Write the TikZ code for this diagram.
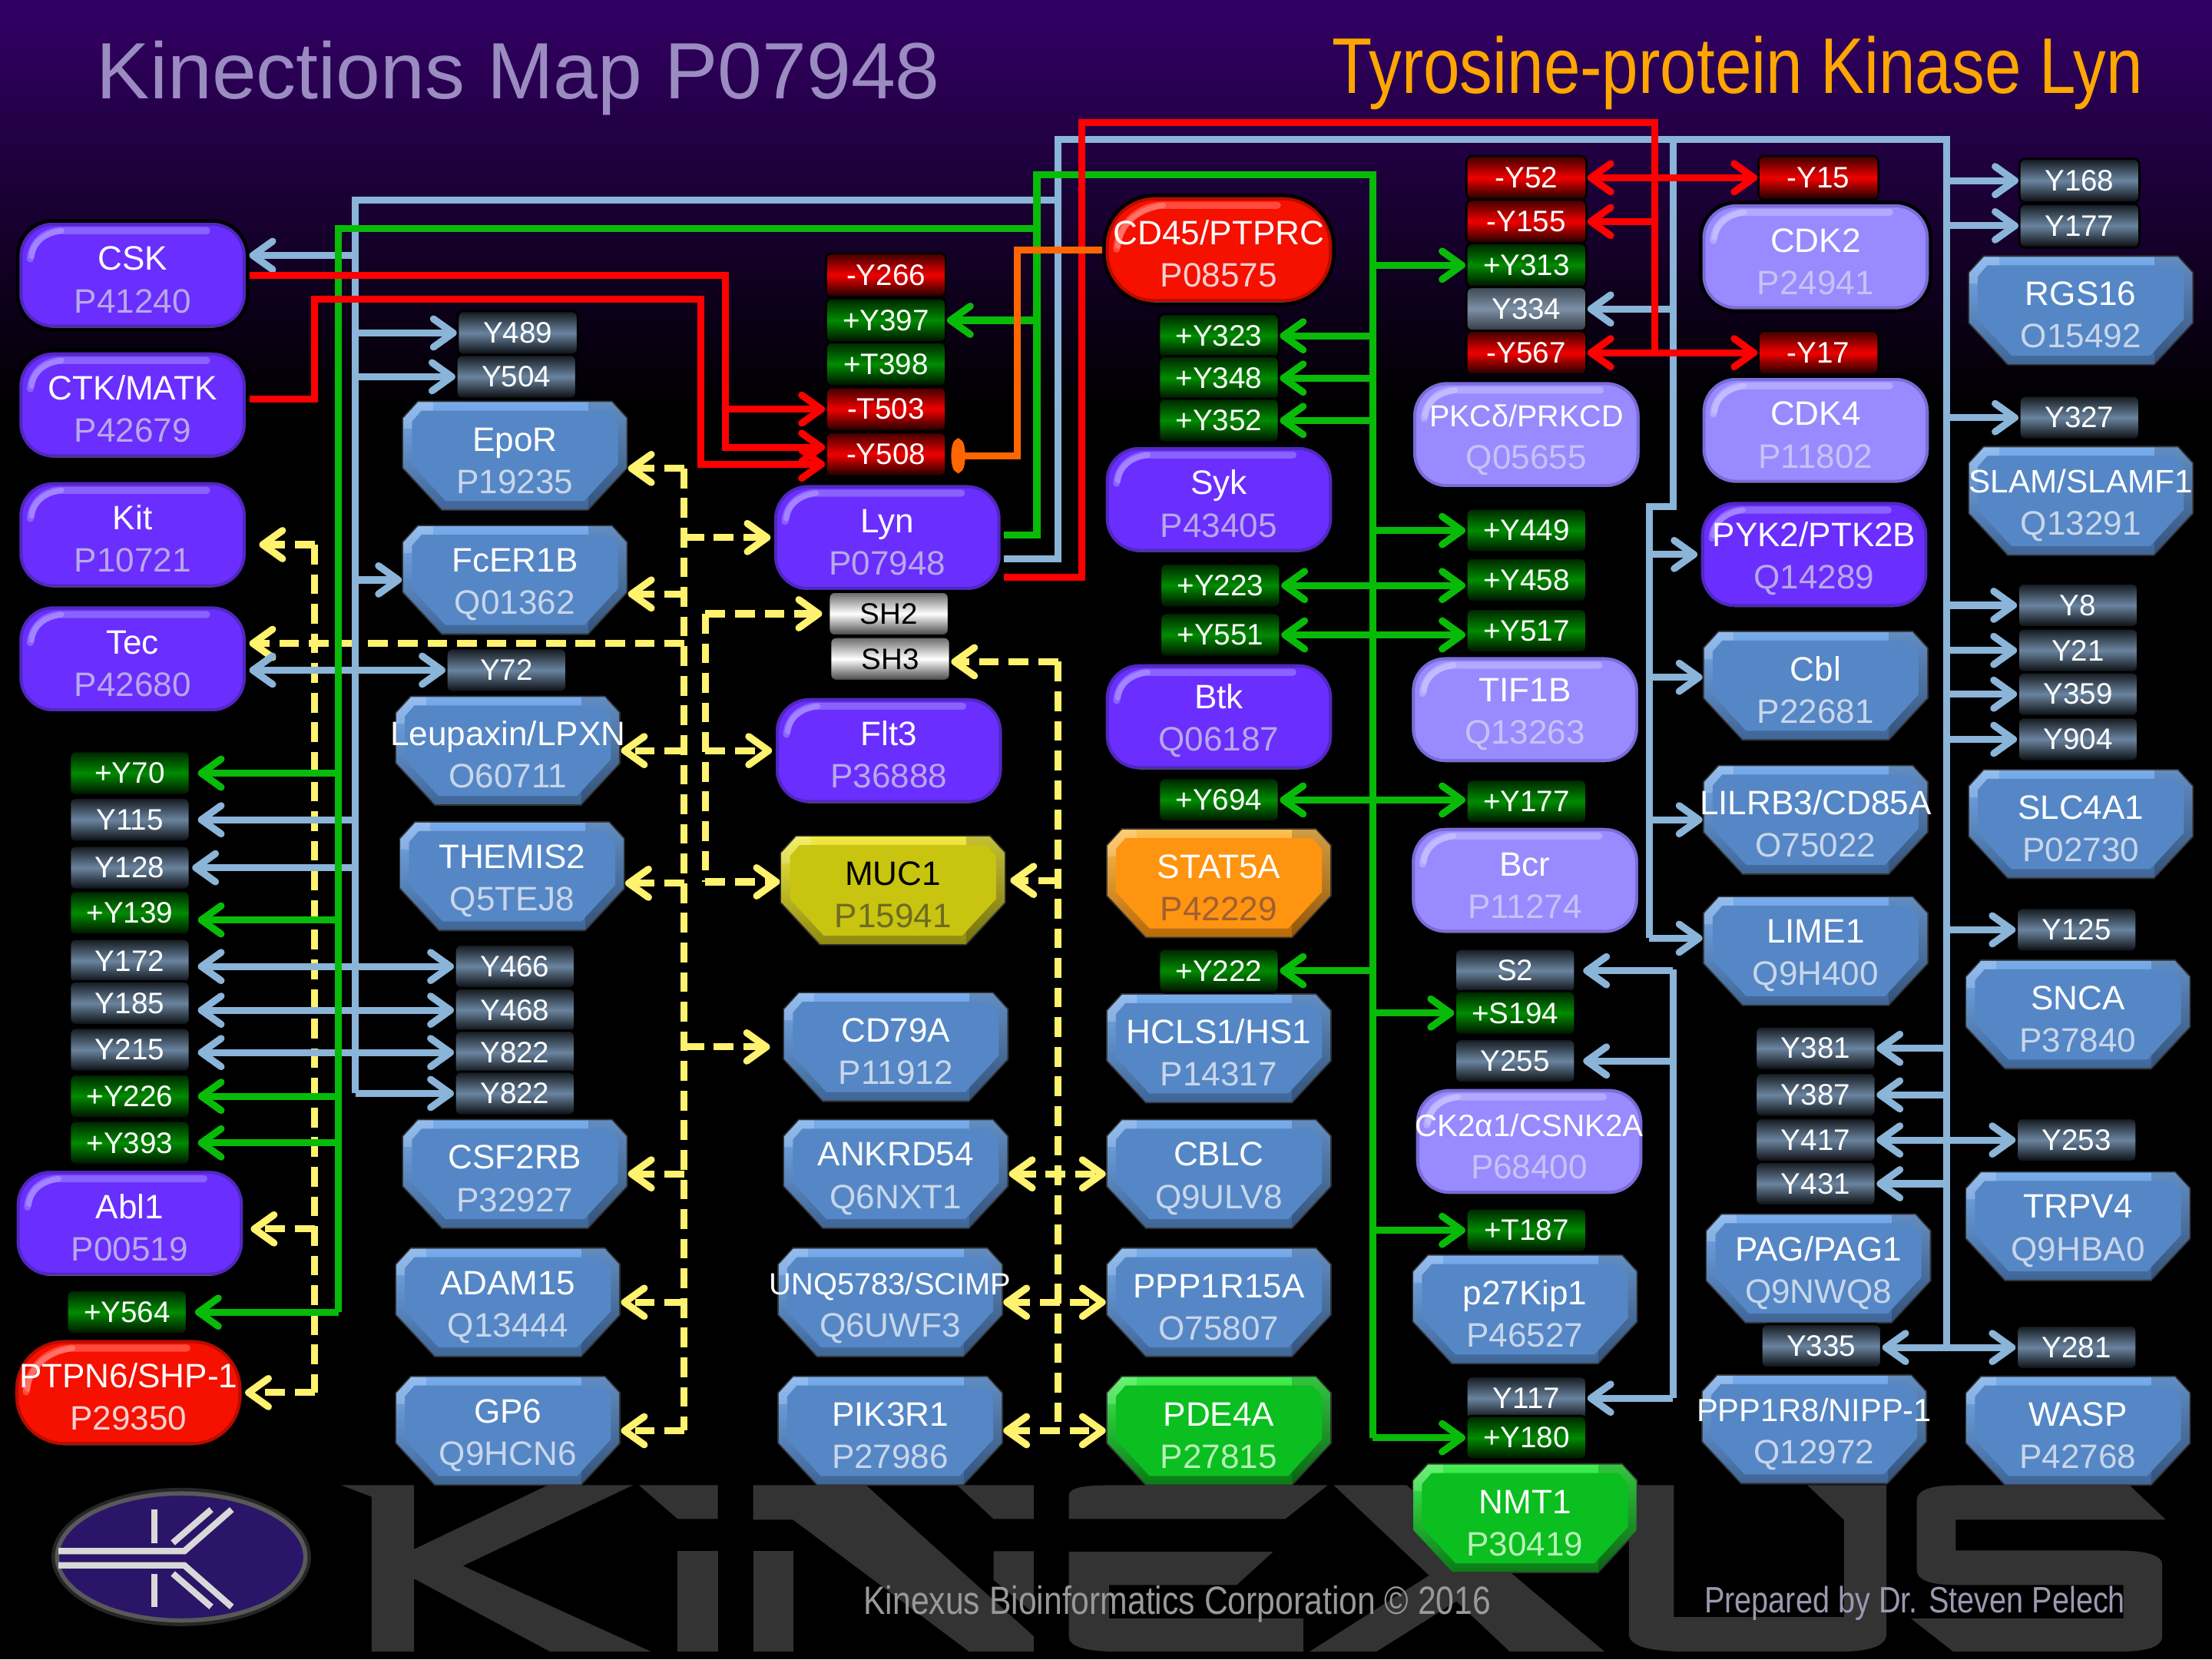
\documentclass[tikz,border=0pt]{standalone}
\usepackage{xcolor}
\usepackage{fontspec}
\setmainfont{Liberation Sans}
\newfontfamily\narrowfont[FakeStretch=0.83]{Liberation Sans}
\usepackage{tikz}
\usetikzlibrary{arrows.meta}
\definecolor{bgpurple}{HTML}{330066}
\definecolor{maptitle}{HTML}{9A8CC0}
\definecolor{lyntitle}{HTML}{FFA600}
\definecolor{markgrey}{HTML}{333333}
\definecolor{logoface}{HTML}{2B1568}
\definecolor{logoline}{HTML}{D8D8D8}
\definecolor{linkblue}{HTML}{8AB4D8}
\definecolor{linkgreen}{HTML}{08BB08}
\definecolor{linkred}{HTML}{FF0000}
\definecolor{linkorange}{HTML}{FF6600}
\definecolor{linkyellow}{HTML}{FFF26E}
\definecolor{kinaseface}{HTML}{6A2EFF}
\definecolor{kinaserim}{HTML}{5028C0}
\definecolor{kinaseglow}{HTML}{8A62FF}
\definecolor{kinaseid}{HTML}{B8A8E8}
\definecolor{lightface}{HTML}{9A8AFF}
\definecolor{lightrim}{HTML}{7A6CD8}
\definecolor{lightglow}{HTML}{B4A8FF}
\definecolor{lightid}{HTML}{C8C2F5}
\definecolor{pinkface}{HTML}{F51000}
\definecolor{pinkrim}{HTML}{B80C00}
\definecolor{pinkglow}{HTML}{FF4A3C}
\definecolor{pinkid}{HTML}{F5D0D0}
\definecolor{hexface}{HTML}{5587C6}
\definecolor{hextop}{HTML}{78ACEC}
\definecolor{hexlow}{HTML}{3F6596}
\definecolor{hexrim}{HTML}{333333}
\definecolor{hexid}{HTML}{C8D6EA}
\definecolor{oliveface}{HTML}{C8C410}
\definecolor{olivetop}{HTML}{F0EA40}
\definecolor{olivelow}{HTML}{8E8A10}
\definecolor{oliveid}{HTML}{6E6C20}
\definecolor{amberface}{HTML}{FF9410}
\definecolor{ambertop}{HTML}{FFC050}
\definecolor{amberlow}{HTML}{B86808}
\definecolor{amberid}{HTML}{A06030}
\definecolor{limeface}{HTML}{0ABF1F}
\definecolor{limetop}{HTML}{40F050}
\definecolor{limelow}{HTML}{0A7A16}
\definecolor{limeid}{HTML}{B8F0B8}
\definecolor{sitesteel}{HTML}{6A849F}
\definecolor{sitepale}{HTML}{7C90A6}
\definecolor{sitegreen}{HTML}{008C00}
\definecolor{sitered}{HTML}{F00000}
\newcommand{\nodefont}{\fontsize{24}{30}\selectfont}
\newcommand{\sitefont}{\fontsize{21}{24}\selectfont}
\newcommand{\smallname}[2]{{\fontsize{#1}{30}\selectfont #2}}
\newcommand{\ptext}[3][white]{\makebox[0pt]{\textcolor{#1}{#2}}\rule{0pt}{23.4pt}\\\makebox[0pt]{#3}}
\newcommand{\hexpoly}[1]{([xshift=11pt+0.4*#1pt,yshift=-#1pt]path picture bounding box.north west)
  -- ([xshift=-11pt-0.4*#1pt,yshift=-#1pt]path picture bounding box.north east)
  -- ([xshift=-#1pt,yshift=-12pt-0.4*#1pt]path picture bounding box.north east)
  -- ([xshift=-#1pt,yshift=30pt+0.4*#1pt]path picture bounding box.south east)
  -- ([xshift=-28pt-0.4*#1pt,yshift=#1pt]path picture bounding box.south east)
  -- ([xshift=28pt+0.4*#1pt,yshift=#1pt]path picture bounding box.south west)
  -- ([xshift=#1pt,yshift=30pt+0.4*#1pt]path picture bounding box.south west)
  -- ([xshift=#1pt,yshift=-12pt-0.4*#1pt]path picture bounding box.north west) -- cycle}
\tikzset{
  link/.style={line width=5pt,>={Straight Barb[round,length=14pt,width=20pt]}},
  bluelink/.style={link,draw=linkblue},
  greenlink/.style={link,draw=linkgreen},
  redlink/.style={link,draw=linkred},
  orangelink/.style={link,draw=linkorange},
  yellowlink/.style={link,draw=linkyellow,dash pattern=on 14pt off 7pt},
  roundbox/.style n args={4}{rectangle,rounded corners=#4,minimum width=163pt,minimum height=77pt,
    inner sep=0pt,align=center,font=\nodefont,fill=#1,draw=black,line width=2.5pt,
    path picture={
      \draw[#2,line width=7pt,rounded corners=#4] (path picture bounding box.south west) rectangle (path picture bounding box.north east);
      \draw[sharp corners,black!55,line width=3pt] (path picture bounding box.south west) -- (path picture bounding box.south east);
      \draw[sharp corners,#3,line width=5pt,line cap=round] ([xshift=9pt,yshift=-#4-2pt]path picture bounding box.north west)
        to[out=85,in=185] ([xshift=#4+4pt,yshift=-7pt]path picture bounding box.north west)
        -- ([xshift=-#4-4pt,yshift=-7pt]path picture bounding box.north east);
      \draw[sharp corners,white,opacity=.22,line width=4pt,line cap=round] ([xshift=10pt,yshift=-#4]path picture bounding box.north west)
        to[out=85,in=190] ([xshift=#4+6pt,yshift=-7pt]path picture bounding box.north west);
    }},
  kinase/.style={roundbox={kinaseface}{kinaserim}{kinaseglow}{25pt},text=kinaseid},
  lightkinase/.style={roundbox={lightface}{lightrim}{lightglow}{25pt},text=lightid},
  phosphatase/.style={roundbox={pinkface}{pinkrim}{pinkglow}{36pt},text=pinkid},
  hexbox/.style n args={3}{rectangle,minimum width=160pt,minimum height=78pt,inner sep=0pt,
    align=center,font=\nodefont,
    path picture={
      \fill[hexrim] \hexpoly{0};
      \begin{scope}
      \clip \hexpoly{1};
      \shade[top color=#2,bottom color=#3] \hexpoly{1};
      \fill[black,opacity=.18] ([xshift=-28pt]path picture bounding box.north east) rectangle (path picture bounding box.south east);
      \fill[white,opacity=.2] (path picture bounding box.north west) rectangle ([xshift=22pt,yshift=-20pt]path picture bounding box.north west);
      \end{scope}
      \fill[#1] \hexpoly{7};
    }},
  substrate/.style={hexbox={hexface}{hextop}{hexlow},text=hexid},
  olivebox/.style={hexbox={oliveface}{olivetop}{olivelow},text=oliveid},
  amberbox/.style={hexbox={amberface}{ambertop}{amberlow},text=amberid},
  limebox/.style={hexbox={limeface}{limetop}{limelow},text=limeid},
  sitebox/.style={rectangle,rounded corners=4pt,minimum width=85pt,minimum height=31pt,inner sep=0pt,
    font=\sitefont,text=white,draw=black,line width=1.5pt},
  siteblue/.style={sitebox,top color=sitesteel!18!black,bottom color=sitesteel!8!black,middle color=sitesteel},
  sitepale/.style={sitebox,top color=sitepale!50!black,bottom color=sitepale!40!black,middle color=sitepale},
  siteplus/.style={sitebox,top color=sitegreen!25!black,bottom color=sitegreen!10!black,middle color=sitegreen},
  siteminus/.style={sitebox,top color=sitered!25!black,bottom color=sitered!10!black,middle color=sitered},
  sitedomain/.style={sitebox,top color=black!60,bottom color=black!75,middle color=white,text=black}
}
\begin{document}
\begin{tikzpicture}[x=1pt,y=-1pt]
\useasboundingbox (0,0) rectangle (1568,1176);
\fill[black] (0,0) rectangle (1568,1176);
\shade[top color=bgpurple,bottom color=black] (0,0) rectangle (1568,290);

\begin{scope}[shift={(217.8,1034.5)},x=0.8611pt,y=-0.1815pt,markgrey]
\fill (28,100)--(88,100)--(88,350)--(198,100)--(268,100)--(128,415)--(283,750)--(200,750)--(88,465)--(88,750)--(53,750)--(53,145)--cycle;
\fill (273,100)--(338,100)--(338,232)--(305,232)--cycle;
\fill (305,358)--(338,358)--(338,750)--(305,750)--cycle;
\fill (367,100)--(460,100)--(598,690)--(598,750)--(545,750)--(400,235)--(367,235)--cycle;
\fill (367,358)--(400,358)--(400,750)--(367,750)--cycle;
\fill (535,100)--(598,100)--(598,232)--(565,232)--cycle;
\fill (565,358)--(598,358)--(598,600)--(565,470)--cycle;
\fill (627,232)--(627,140)..controls (627,115) and (635,100)..(660,100)--(840,100)--(805,232)--cycle;
\fill (627,360)--(795,360)--(765,490)--(660,490)--(660,620)--(820,620)--(820,750)--(670,750)..controls (640,750) and (627,730)..(627,690)--cycle;
\fill (845,100)--(905,100)--(1068,750)--(990,750)--cycle;
\fill (825,750)--(880,750)--(1098,100)--(1040,100)--cycle;
\fill (1088,100)--(1125,100)--(1125,615)--(1265,615)--(1265,235)--(1235,100)--(1300,100)--(1300,680)..controls (1300,730) and (1285,750)..(1260,750)--(1140,750)..controls (1105,750) and (1088,730)..(1088,680)--cycle;
\fill (1360,100)--(1500,100)--(1530,235)--(1357,235)--(1357,355)--(1490,355)..controls (1515,355) and (1527,375)..(1527,410)--(1527,690)..controls (1527,730) and (1515,750)..(1490,750)--(1355,750)--(1320,620)--(1495,620)--(1495,490)--(1360,490)..controls (1335,490) and (1325,470)..(1325,430)--(1325,160)..controls (1325,120) and (1335,100)..(1360,100)--cycle;
\end{scope}
\fill[black!70,opacity=.5] (128.5,1103.5) ellipse (92 and 49);
\fill[logoface,draw=black!65,line width=3pt] (128.5,1103.5) ellipse (88 and 45);
\begin{scope}[shift={(21.8,1045.4)},x=0.1815pt,y=-0.1815pt,draw=logoline,line width=4.5pt]
\draw (108,297)--(600,297)--(785,135);
\draw (108,353)--(600,353)--(785,515);
\draw (555,265)--(705,135);
\draw (555,385)--(705,515);
\draw (482,135)--(482,265);
\draw (482,385)--(482,515);
\end{scope}

\node[anchor=base west,text=maptitle,font=\fontsize{56.6}{60}\selectfont] (maphead) at (65,70) {Kinections Map P07948};
\node[anchor=base east,text=lyntitle,font=\fontsize{56}{60}\selectfont\narrowfont] (lynhead) at (1522.5,66) {Tyrosine-protein Kinase Lyn};
\node[anchor=base west,text=black!40,font=\fontsize{28}{30}\selectfont\narrowfont,inner sep=0pt] (corpnote) at (612,1144) {Kinexus Bioinformatics Corporation © 2016};
\node[anchor=base west,text=blue!25!black!40,font=\fontsize{26}{30}\selectfont\narrowfont,inner sep=0pt] (prepnote) at (1208,1143) {Prepared by Dr. Steven Pelech};

\node[kinase] (CSK) at (94,195) {\ptext{CSK}{P41240}};
\node[kinase] (CTK) at (94,287) {\ptext{CTK/MATK}{P42679}};
\node[kinase] (Kit) at (94,379) {\ptext{Kit}{P10721}};
\node[kinase] (Tec) at (94,467) {\ptext{Tec}{P42680}};
\node[kinase] (Abl1) at (92,867) {\ptext{Abl1}{P00519}};
\node[phosphatase] (PTPN6) at (91,987) {\ptext{PTPN6/SHP-1}{P29350}};
\node[kinase] (Lyn) at (629,381) {\ptext{Lyn}{P07948}};
\node[kinase] (Flt3) at (630,532) {\ptext{Flt3}{P36888}};
\node[phosphatase] (CD45) at (864,177) {\ptext{CD45/PTPRC}{P08575}};
\node[kinase] (Syk) at (864,354) {\ptext{Syk}{P43405}};
\node[kinase] (Btk) at (864,508) {\ptext{Btk}{Q06187}};
\node[lightkinase] (PKCd) at (1082,308) {\ptext{\smallname{21.5}{PKCδ/PRKCD}}{Q05655}};
\node[lightkinase] (TIF1B) at (1081,503) {\ptext{TIF1B}{Q13263}};
\node[lightkinase] (Bcr) at (1081,624) {\ptext{Bcr}{P11274}};
\node[lightkinase] (CK2a1) at (1084,809) {\ptext{\smallname{22}{CK2α1/CSNK2A}}{P68400}};
\node[lightkinase] (CDK2) at (1287,182) {\ptext{CDK2}{P24941}};
\node[lightkinase] (CDK4) at (1287,305) {\ptext{CDK4}{P11802}};
\node[kinase] (PYK2) at (1286,393) {\ptext{PYK2/PTK2B}{Q14289}};

\node[substrate] (EpoR) at (365,323) {\ptext{EpoR}{P19235}};
\node[substrate] (FcER1B) at (365,411) {\ptext{FcER1B}{Q01362}};
\node[substrate] (LPXN) at (360,532) {\ptext{Leupaxin/LPXN}{O60711}};
\node[substrate] (THEMIS2) at (363,621) {\ptext{THEMIS2}{Q5TEJ8}};
\node[substrate] (CSF2RB) at (365,832) {\ptext{CSF2RB}{P32927}};
\node[substrate] (ADAM15) at (360,923) {\ptext{ADAM15}{Q13444}};
\node[substrate] (GP6) at (360,1014) {\ptext{GP6}{Q9HCN6}};
\node[olivebox] (MUC1) at (633,631) {\ptext[black]{MUC1}{P15941}};
\node[substrate] (CD79A) at (635,742) {\ptext{CD79A}{P11912}};
\node[substrate] (ANKRD54) at (635,832) {\ptext{ANKRD54}{Q6NXT1}};
\node[substrate] (SCIMP) at (631,923) {\ptext{\smallname{21.7}{UNQ5783/SCIMP}}{Q6UWF3}};
\node[substrate] (PIK3R1) at (631,1014) {\ptext{PIK3R1}{P27986}};
\node[amberbox] (STAT5A) at (864,626) {\ptext{STAT5A}{P42229}};
\node[substrate] (HCLS1) at (864,743) {\ptext{HCLS1/HS1}{P14317}};
\node[substrate] (CBLC) at (864,832) {\ptext{CBLC}{Q9ULV8}};
\node[substrate] (PPP1R15A) at (864,923) {\ptext{PPP1R15A}{O75807}};
\node[limebox] (PDE4A) at (864,1014) {\ptext{PDE4A}{P27815}};
\node[substrate] (p27Kip1) at (1081,928) {\ptext{p27Kip1}{P46527}};
\node[limebox] (NMT1) at (1081,1076) {\ptext{NMT1}{P30419}};
\node[substrate] (Cbl) at (1287,486) {\ptext{Cbl}{P22681}};
\node[substrate] (LILRB3) at (1287,581) {\ptext{LILRB3/CD85A}{O75022}};
\node[substrate] (LIME1) at (1287,674) {\ptext{LIME1}{Q9H400}};
\node[substrate] (PAG1) at (1289,899) {\ptext{PAG/PAG1}{Q9NWQ8}};
\node[substrate] (NIPP1) at (1286,1013) {\ptext{\smallname{22.7}{PPP1R8/NIPP-1}}{Q12972}};
\node[substrate] (RGS16) at (1475,220) {\ptext{RGS16}{O15492}};
\node[substrate] (SLAMF1) at (1475,355) {\ptext{\smallname{23}{SLAM/SLAMF1}}{Q13291}};
\node[substrate] (SLC4A1) at (1475,584) {\ptext{SLC4A1}{P02730}};
\node[substrate] (SNCA) at (1473,719) {\ptext{SNCA}{P37840}};
\node[substrate] (TRPV4) at (1473,869) {\ptext{TRPV4}{Q9HBA0}};
\node[substrate] (WASP) at (1473,1014) {\ptext{WASP}{P42768}};

\node[siteplus] (pY70) at (92,548) {+Y70};
\node[siteblue] (Y115) at (92,581) {Y115};
\node[siteblue] (Y128) at (92,615) {Y128};
\node[siteplus] (pY139) at (92,647) {+Y139};
\node[siteblue] (Y172) at (92,681) {Y172};
\node[siteblue] (Y185) at (92,711) {Y185};
\node[siteblue] (Y215) at (92,744) {Y215};
\node[siteplus] (pY226) at (92,777) {+Y226};
\node[siteplus] (pY393) at (92,810) {+Y393};
\node[siteplus] (pY564) at (90,930) {+Y564};
\node[siteblue] (Y489) at (367,236) {Y489};
\node[siteblue] (Y504) at (366,267) {Y504};
\node[siteblue] (Y72) at (359,475) {Y72};
\node[siteblue] (Y466) at (365,685) {Y466};
\node[siteblue] (Y468) at (365,716) {Y468};
\node[siteblue] (Y822a) at (365,746) {Y822};
\node[siteblue] (Y822b) at (365,775) {Y822};
\node[siteminus] (mY266) at (628,195) {-Y266};
\node[siteplus] (pY397) at (628,227) {+Y397};
\node[siteplus] (pT398) at (628,258) {+T398};
\node[siteminus] (mT503) at (628,290) {-T503};
\node[siteminus] (mY508) at (628,322) {-Y508};
\node[sitedomain] (SH2) at (630,435) {SH2};
\node[sitedomain] (SH3) at (631,467) {SH3};
\node[siteplus] (pY323) at (864,238) {+Y323};
\node[siteplus] (pY348) at (864,268) {+Y348};
\node[siteplus] (pY352) at (864,298) {+Y352};
\node[siteplus] (pY223) at (865,415) {+Y223};
\node[siteplus] (pY551) at (865,450) {+Y551};
\node[siteplus] (pY694) at (864,567) {+Y694};
\node[siteplus] (pY222) at (864,688) {+Y222};
\node[siteminus] (mY52) at (1082,126) {-Y52};
\node[siteminus] (mY155) at (1082,157) {-Y155};
\node[siteplus] (pY313) at (1082,188) {+Y313};
\node[sitepale] (Y334) at (1082,219) {Y334};
\node[siteminus] (mY567) at (1082,250) {-Y567};
\node[siteplus] (pY449) at (1082,376) {+Y449};
\node[siteplus] (pY458) at (1082,411) {+Y458};
\node[siteplus] (pY517) at (1082,447) {+Y517};
\node[siteplus] (pY177) at (1082,568) {+Y177};
\node[siteblue] (S2) at (1074,688) {S2};
\node[siteplus] (pS194) at (1074,718) {+S194};
\node[siteblue] (Y255) at (1074,752) {Y255};
\node[siteplus] (pT187) at (1082,872) {+T187};
\node[siteblue] (Y117) at (1082,991) {Y117};
\node[siteplus] (pY180) at (1082,1019) {+Y180};
\node[siteminus] (mY15) at (1289,126) {-Y15};
\node[siteminus] (mY17) at (1289,250) {-Y17};
\node[siteblue] (Y381) at (1287,743) {Y381};
\node[siteblue] (Y387) at (1287,776) {Y387};
\node[siteblue] (Y417) at (1287,808) {Y417};
\node[siteblue] (Y431) at (1287,839) {Y431};
\node[siteblue] (Y335) at (1291,954) {Y335};
\node[siteblue] (Y168) at (1474,128) {Y168};
\node[siteblue] (Y177) at (1474,160) {Y177};
\node[siteblue] (Y327) at (1474,296) {Y327};
\node[siteblue] (Y8) at (1473,429) {Y8};
\node[siteblue] (Y21) at (1473,461) {Y21};
\node[siteblue] (Y359) at (1473,492) {Y359};
\node[siteblue] (Y904) at (1473,524) {Y904};
\node[siteblue] (Y125) at (1472,659) {Y125};
\node[siteblue] (Y253) at (1472,808) {Y253};
\node[siteblue] (Y281) at (1472,955) {Y281};

\coordinate (yellowmain) at (485,332);
\coordinate (yellowinner) at (500,435);
\coordinate (yellowleft) at (223,386);
\coordinate (yellowright) at (750,469);
\coordinate (blueleft) at (252,142);
\coordinate (bluecorner) at (750,142);
\coordinate (bluetop) at (750,99);
\coordinate (blueright) at (1380,99);
\coordinate (bluesplit) at (1186,99);
\coordinate (bluestep) at (1169,359);
\coordinate (bluelower) at (1186,687);
\coordinate (greenleft) at (240,162);
\coordinate (greenup) at (735,124);
\coordinate (greenright) at (973,124);
\coordinate (redcsk) at (514,196);
\coordinate (redctk) at (223,212);
\coordinate (redctktop) at (497,212);
\coordinate (redtop) at (767,87);
\coordinate (redright) at (1173,87);
\coordinate (orangebend) at (721,177);

\draw[yellowlink] (yellowmain) -- (yellowmain |- GP6);
\draw[yellowlink,->] ([yshift=-9pt]EpoR.east -| yellowmain) -- ([yshift=-9pt]EpoR.east);
\draw[yellowlink,->] (yellowmain |- Lyn) -- (Lyn);
\draw[yellowlink,->] ([yshift=-10pt]FcER1B.east -| yellowmain) -- ([yshift=-10pt]FcER1B.east);
\draw[yellowlink,->] ([yshift=11pt]Tec.east -| yellowmain) -- ([yshift=11pt]Tec.east);
\draw[yellowlink,->] (yellowmain |- LPXN) -- (LPXN);
\draw[yellowlink,->] ([yshift=-5pt]THEMIS2.east -| yellowmain) -- ([yshift=-5pt]THEMIS2.east);
\draw[yellowlink,->,shorten >=9pt] (yellowmain |- CD79A) -- (CD79A);
\draw[yellowlink,->] (yellowmain |- CSF2RB) -- (CSF2RB);
\draw[yellowlink,->] (yellowmain |- ADAM15) -- (ADAM15);
\draw[yellowlink,->] (yellowmain |- GP6) -- (GP6);
\draw[yellowlink] (yellowinner) -- ([yshift=6pt]MUC1.west -| yellowinner);
\draw[yellowlink,->,shorten >=4pt] (yellowinner) -- (SH2);
\draw[yellowlink,->] (yellowinner |- Flt3) -- (Flt3);
\draw[yellowlink,->] ([yshift=6pt]MUC1.west -| yellowinner) -- ([yshift=6pt]MUC1.west);
\draw[yellowlink] (yellowleft) -- (yellowleft |- PTPN6);
\draw[yellowlink,->,shorten >=7pt] (yellowleft) -- ([yshift=-7pt]Kit.east);
\draw[yellowlink,->,shorten >=3pt] ([yshift=-4pt]Abl1.east -| yellowleft) -- ([yshift=-4pt]Abl1.east);
\draw[yellowlink,->] (yellowleft |- PTPN6) -- (PTPN6);
\draw[yellowlink] (yellowright) -- (yellowright |- PIK3R1);
\draw[yellowlink,->] (yellowright) -- ([yshift=-2pt]SH3.east);
\draw[yellowlink,->,shorten >=3pt] ([yshift=7pt]MUC1.east -| yellowright) -- ([yshift=7pt]MUC1.east);
\draw[yellowlink,<->] (ANKRD54) -- (CBLC);
\draw[yellowlink,<->] (SCIMP) -- (PPP1R15A);
\draw[yellowlink,<->] (PIK3R1) -- (PDE4A);

\draw[bluelink] ([yshift=-15pt]Lyn.east) -| (bluetop) -- (blueright) -- (blueright |- Y281);
\draw[bluelink] (bluecorner) -- (blueleft) -- (blueleft |- Y822b);
\draw[bluelink] (bluesplit) -- (bluesplit |- bluestep) -- (bluestep) -- ([yshift=9pt]LIME1.west -| bluestep);
\draw[bluelink] (bluelower) -- (bluelower |- Y117);
\draw[bluelink,->] ([yshift=14pt]CSK.east -| blueleft) -- ([yshift=14pt]CSK.east);
\draw[bluelink,->] (blueleft |- Y489) -- (Y489);
\draw[bluelink,->] (blueleft |- Y504) -- (Y504);
\draw[bluelink,->] (blueleft |- FcER1B) -- (FcER1B);
\draw[bluelink,<->] (Tec.east |- Y72) -- (Y72);
\draw[bluelink,->,shorten >=5pt] (blueleft |- Y115) -- (Y115);
\draw[bluelink,->,shorten >=1pt] (blueleft |- Y128) -- (Y128);
\draw[bluelink,<->,shorten <=5pt] (Y172.east |- Y466) -- (Y466);
\draw[bluelink,<->,shorten <=5pt] (Y185.east |- Y468) -- (Y468);
\draw[bluelink,<->,shorten <=5pt] (Y215.east |- Y822a) -- (Y822a);
\draw[bluelink,->] (blueleft |- Y822b) -- (Y822b);
\draw[bluelink,->] (bluesplit |- Y334) -- (Y334);
\draw[bluelink,->] (bluestep |- PYK2) -- (PYK2);
\draw[bluelink,->] ([yshift=6pt]Cbl.west -| bluestep) -- ([yshift=6pt]Cbl.west);
\draw[bluelink,->] (bluestep |- LILRB3) -- (LILRB3);
\draw[bluelink,->] ([yshift=9pt]LIME1.west -| bluestep) -- ([yshift=9pt]LIME1.west);
\draw[bluelink,->,shorten >=5pt] (bluelower |- S2) -- (S2);
\draw[bluelink,->,shorten >=5pt] (bluelower |- Y255) -- (Y255);
\draw[bluelink,->] (bluelower |- Y117) -- (Y117);
\draw[bluelink,->] (blueright |- Y168) -- (Y168);
\draw[bluelink,->] (blueright |- Y177) -- (Y177);
\draw[bluelink,->] (blueright |- Y327) -- (Y327);
\draw[bluelink,->] (blueright |- Y8) -- (Y8);
\draw[bluelink,->] (blueright |- Y21) -- (Y21);
\draw[bluelink,->] (blueright |- Y359) -- (Y359);
\draw[bluelink,->] (blueright |- Y904) -- (Y904);
\draw[bluelink,->] (blueright |- Y125) -- (Y125);
\draw[bluelink,->] (blueright |- Y381) -- (Y381);
\draw[bluelink,->] (blueright |- Y387) -- (Y387);
\draw[bluelink,<->] (Y417.east |- Y253) -- (Y253);
\draw[bluelink,->] (blueright |- Y431) -- (Y431);
\draw[bluelink,<->] (Y335.east |- Y281) -- (Y281);

\draw[greenlink] ([yshift=2pt]Lyn.east) -| (greenup) -- (greenright) -- (greenright |- pY180);
\draw[greenlink] (greenup |- greenleft) -- (greenleft) -- (greenleft |- pY564);
\draw[greenlink,->] (greenup |- pY397) -- (pY397);
\draw[greenlink,->,shorten >=5pt] (greenleft |- pY70) -- (pY70);
\draw[greenlink,->,shorten >=5pt] ([yshift=-5pt]pY139.east -| greenleft) -- ([yshift=-5pt]pY139.east);
\draw[greenlink,->,shorten >=5pt] (greenleft |- pY226) -- (pY226);
\draw[greenlink,->,shorten >=5pt] (greenleft |- pY393) -- (pY393);
\draw[greenlink,->,shorten >=5pt] (greenleft |- pY564) -- (pY564);
\draw[greenlink,->] (greenright |- pY313) -- (pY313);
\draw[greenlink,->] (greenright |- pY323) -- (pY323);
\draw[greenlink,->] (greenright |- pY348) -- (pY348);
\draw[greenlink,->] (greenright |- pY352) -- (pY352);
\draw[greenlink,->] (greenright |- pY449) -- (pY449);
\draw[greenlink,<->] (pY223) -- (pY458.west |- pY223);
\draw[greenlink,<->] (pY551) -- (pY517.west |- pY551);
\draw[greenlink,<->] (pY694) -- (pY177.west |- pY694);
\draw[greenlink,->] (greenright |- pY222) -- (pY222);
\draw[greenlink,->] (greenright |- pS194) -- (pS194);
\draw[greenlink,->] (greenright |- pT187) -- (pT187);
\draw[greenlink,->] (greenright |- pY180) -- (pY180);

\draw[redlink,->] (CSK.east) -| ([yshift=5pt]mY508.west -| redcsk) -- ([yshift=5pt]mY508.west);
\draw[redlink,->] (redcsk |- mT503) -- (mT503);
\draw[redlink,->] ([yshift=4pt]CTK.east) -| (redctk) -- (redctktop) |- ([yshift=-7pt]mY508.west);
\draw[redlink,->] ([yshift=-28pt]Lyn.east) -| (redtop) -- (redright) |- (mY17);
\draw[redlink,->] (redright |- mY155) -- (mY155);
\draw[redlink,->] (redright |- mY567) -- (mY567);
\draw[redlink,<->] (mY52) -- (mY15);

\draw[orangelink,-{Ellipse[length=10pt,width=24pt]}] (CD45.west) -| ([yshift=-1pt]mY508.east -| orangebend) -- ([xshift=3pt,yshift=-1pt]mY508.east);
\end{tikzpicture}
\end{document}
